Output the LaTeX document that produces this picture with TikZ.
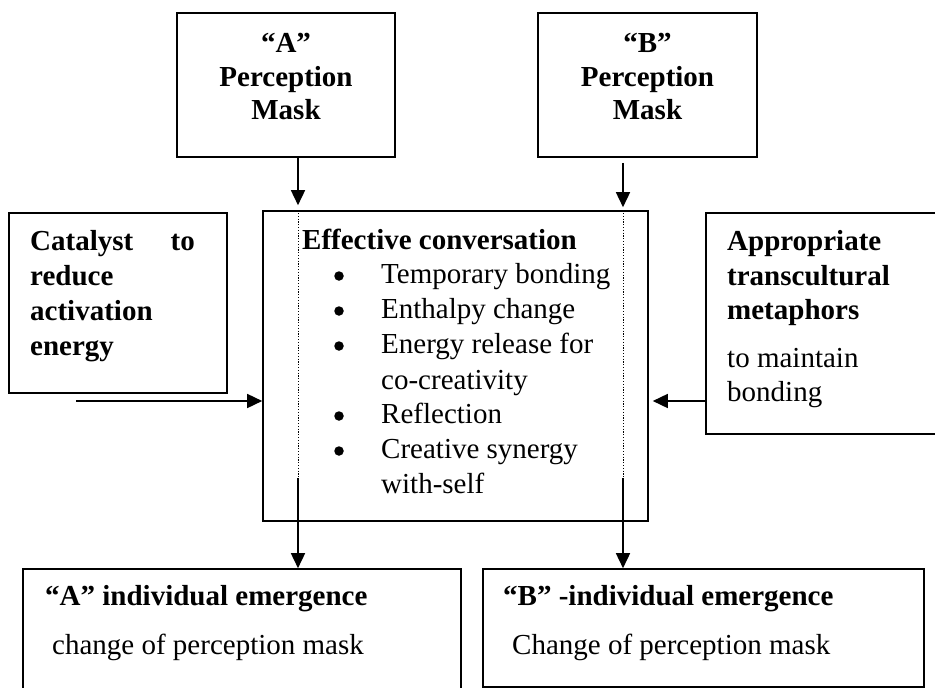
\documentclass[tikz,border=0pt]{standalone}
\usepackage{fontspec}
\setmainfont{Liberation Serif}
\usetikzlibrary{arrows.meta}
\begin{document}
\begin{tikzpicture}[x=1pt,y=-1pt,
  box/.style={draw, line width=1.6pt, inner sep=0pt, rectangle},
  txt/.style={inner sep=0pt, font=\fontsize{29}{34}\selectfont},
  btxt/.style={inner sep=0pt, font=\fontsize{29}{34}\selectfont\bfseries},
  bulletdot/.style={circle, fill, inner sep=0pt, minimum size=9.5pt},
  arr/.style={line width=1.6pt, -{Triangle[length=15pt,width=14pt]}},
  dotl/.style={line width=0.8pt, dash pattern=on 1.2pt off 1.6pt},
]
\useasboundingbox (0,0) rectangle (935,688);
\clip (0,0) rectangle (935,688);

% boxes
\node[box, minimum width=218pt, minimum height=144pt] (boxA) at (286,85) {};
\node[box, minimum width=219pt, minimum height=144pt] (boxB) at (647.5,85) {};
\node[box, minimum width=218pt, minimum height=180pt] (cat) at (118,303) {};
\node[box, minimum width=385pt, minimum height=310pt] (ctr) at (455.5,366) {};
\node[box, minimum width=236pt, minimum height=221pt] (app) at (824,323.5) {};
\node[box, minimum width=438pt, minimum height=140pt] (emA) at (242,639) {};
\node[box, minimum width=441pt, minimum height=118pt] (emB) at (703.5,628) {};

% texts: top boxes
\node[btxt, anchor=base] (a1) at (286,52) {“A”};
\node[btxt, anchor=base] (a2) at (286,86) {Perception};
\node[btxt, anchor=base] (a3) at (286,119) {Mask};
\node[btxt, anchor=base] (b1) at (647.5,52) {“B”};
\node[btxt, anchor=base] (b2) at (647.5,86) {Perception};
\node[btxt, anchor=base] (b3) at (647.5,119) {Mask};

% catalyst
\node[btxt, anchor=base west] (c1) at (30,250) {Catalyst};
\node[btxt, anchor=base east] (c1b) at (195,250) {to};
\node[btxt, anchor=base west] (c2) at (30,285) {reduce};
\node[btxt, anchor=base west] (c3) at (30,320) {activation};
\node[btxt, anchor=base west] (c4) at (30,355) {energy};

% centre
\node[btxt, anchor=base west] (e0) at (302,249) {Effective conversation};
\foreach \n/\y in {1/283,2/318,3/353,5/423,6/458}
  \node[bulletdot] (bul\n) at (339,\y-7) {};
\node[txt, anchor=base west] (e1) at (381,283) {Temporary bonding};
\node[txt, anchor=base west] (e2) at (381,318) {Enthalpy change};
\node[txt, anchor=base west] (e3) at (381,353) {Energy release for};
\node[txt, anchor=base west] (e4) at (381,389) {co-creativity};
\node[txt, anchor=base west] (e5) at (381,423) {Reflection};
\node[txt, anchor=base west] (e6) at (381,458) {Creative synergy};
\node[txt, anchor=base west] (e7) at (381,493) {with-self};

% right box
\node[btxt, anchor=base west] (p1) at (727,250) {Appropriate};
\node[btxt, anchor=base west] (p2) at (727,285) {transcultural};
\node[btxt, anchor=base west] (p3) at (727,319) {metaphors};
\node[txt, anchor=base west] (p4) at (727,367) {to maintain};
\node[txt, anchor=base west] (p5) at (727,401) {bonding};

% bottom boxes
\node[btxt, anchor=base west] (m1) at (45,605) {“A” individual emergence};
\node[txt, anchor=base west] (m2) at (52,654) {change of perception mask};
\node[btxt, anchor=base west] (n1) at (503,605) {“B” -individual emergence};
\node[txt, anchor=base west] (n2) at (512,654) {Change of perception mask};

% connectors
\coordinate (xa) at (298,0);
\coordinate (xb) at (623,0);
\coordinate (ja) at (298,478);
\coordinate (jb) at (623,478);
\coordinate (cs) at (76,401);

\draw[arr] (boxA.south -| xa) -- ([yshift=5pt]ctr.north -| xa);
\draw[arr] ([yshift=-5pt]boxB.south -| xb) -- ([yshift=3pt]ctr.north -| xb);
\draw[dotl] (ctr.north -| xa) -- (ja);
\draw[dotl] (ctr.north -| xb) -- (jb);
\draw[arr] (ja) -- (emA.north -| xa);
\draw[arr] (jb) -- (emB.north -| xb);
\draw[arr] (cs) -- (ctr.west |- cs);
\draw[arr] (app.west |- cs) -- ([xshift=4pt]ctr.east |- cs);
\end{tikzpicture}
\end{document}
